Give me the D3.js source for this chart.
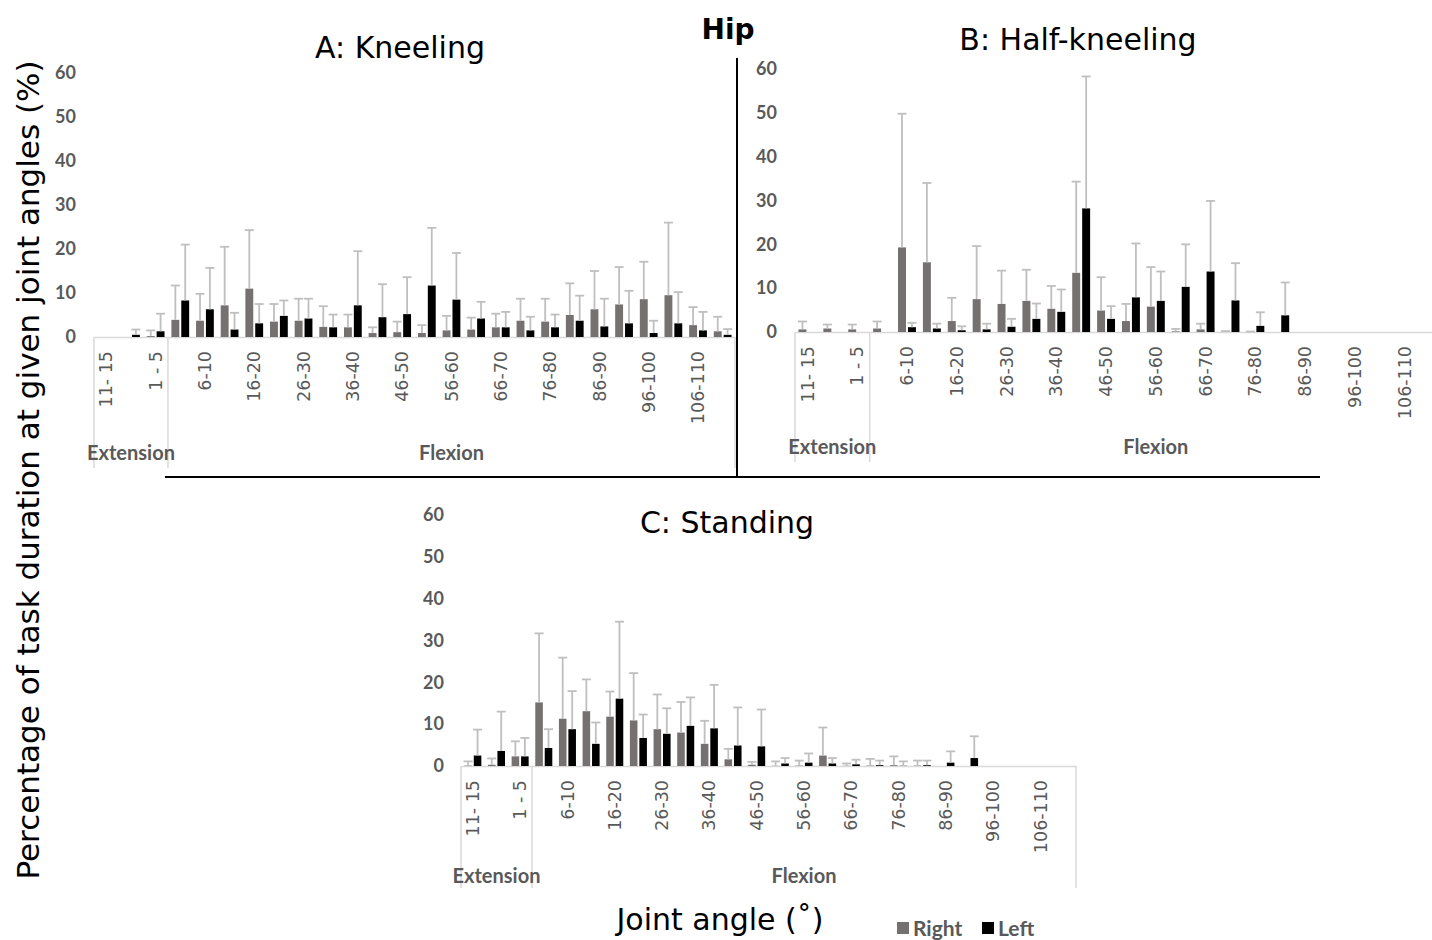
<!DOCTYPE html>
<html><head><meta charset="utf-8">
<script src="https://cdn.jsdelivr.net/npm/d3@7"></script>
<style>body{margin:0;background:#fff;} svg{display:block}</style>
</head><body>
<svg id="chart" width="1432" height="940"></svg>
<script>
// ---------- data ----------
const extensionCategories = ["11- 15", "6-10", "1 - 5"];
const flexionCategories = ["0-5","6-10","11-15","16-20","21-25","26-30","31-35","36-40","41-45","46-50",
  "51-55","56-60","61-65","66-70","71-75","76-80","81-85","86-90","91-95","96-100","101-105","106-110","111-115"];
const seriesNames = ["Right", "Left"];
const yTickValues = [0, 10, 20, 30, 40, 50, 60];
const panelTitles = ["A: Kneeling", "B: Half-kneeling", "C: Standing"];

// A: Kneeling (mean and SD, % of task duration)
const kneelingRight   = [0, 0, 0.2, 3.9, 3.7, 7.2, 11.0, 3.5, 3.7, 2.3, 2.2, 0.9, 1.1, 0.9, 1.5, 1.7, 2.2, 3.7, 3.5, 5.0, 6.3, 7.4, 8.6, 9.5, 2.7, 1.3];
const kneelingRightSD = [0, 0, 1.3, 7.8, 6.1, 13.3, 13.3, 4.0, 5.0, 4.7, 2.9, 1.3, 2.4, 1.8, 3.3, 2.7, 3.1, 5.0, 5.2, 7.2, 8.7, 8.5, 8.5, 16.5, 4.1, 3.3];
const kneelingLeft    = [0, 0.5, 1.3, 8.3, 6.3, 1.7, 3.1, 4.8, 4.2, 2.2, 7.2, 4.5, 5.2, 11.7, 8.5, 4.2, 2.2, 1.5, 2.2, 3.7, 2.4, 3.1, 0.9, 3.1, 1.5, 0.5];
const kneelingLeftSD  = [0, 1.2, 4.0, 12.7, 9.4, 3.8, 4.4, 3.5, 4.5, 2.9, 12.3, 7.5, 8.4, 13.1, 10.6, 3.8, 3.5, 3.1, 2.9, 5.7, 6.3, 7.4, 2.8, 7.1, 4.2, 1.3];

// B: Half-kneeling
const halfRight   = [0.6, 0.8, 0.6, 0.8, 19.3, 15.9, 2.5, 7.5, 6.4, 7.1, 5.3, 13.5, 4.9, 2.5, 5.8, 0.15, 0.6, 0.1, 0.05, 0, 0, 0, 0, 0, 0, 0];
const halfRightSD = [1.8, 0.9, 1.1, 1.6, 30.5, 18.1, 5.3, 12.1, 7.6, 7.1, 5.2, 20.8, 7.6, 3.9, 9.0, 0.55, 1.3, 0.1, 0.05, 0, 0, 0, 0, 0, 0, 0];
const halfLeft    = [0, 0, 0, 0, 1.1, 0.8, 0.4, 0.6, 1.2, 3.0, 4.6, 28.2, 3.0, 7.9, 7.1, 10.3, 13.8, 7.2, 1.4, 3.8, 0, 0, 0, 0, 0, 0];
const halfLeftSD  = [0, 0, 0, 0, 1.0, 1.1, 0.9, 1.3, 1.8, 3.5, 5.1, 30.1, 2.9, 12.3, 6.7, 9.7, 16.1, 8.5, 3.1, 7.5, 0, 0, 0, 0, 0, 0];

// C: Standing
const standRight   = [0.1, 0.3, 2.3, 15.2, 11.3, 13.1, 11.8, 10.9, 8.8, 8.0, 5.3, 1.6, 0.3, 0.05, 0.1, 2.5, 0.05, 0.1, 0.2, 0.1, 0, 0, 0, 0, 0, 0];
const standRightSD = [1.0, 1.5, 3.6, 16.5, 14.6, 7.6, 6.0, 11.3, 8.3, 7.3, 5.5, 2.5, 0.7, 1.05, 1.2, 6.7, 0.55, 1.6, 2.1, 1.2, 0, 0, 0, 0, 0, 0];
const standLeft    = [2.5, 3.6, 2.3, 4.3, 8.8, 5.3, 16.1, 6.7, 7.7, 9.6, 9.0, 4.9, 4.7, 0.6, 0.8, 0.6, 0.4, 0.2, 0.05, 0.2, 0.8, 1.9, 0, 0, 0, 0];
const standLeftSD  = [6.2, 9.4, 4.4, 4.5, 9.1, 5.1, 18.4, 5.6, 6.1, 6.8, 10.4, 9.1, 8.8, 1.3, 2.2, 1.3, 1.1, 1.1, 1.05, 1.1, 2.7, 5.2, 0, 0, 0, 0];

// ---------- drawing ----------
const svg = d3.select("#chart");
const colors = {Right: "#767171", Left: "#000000"};
const gray = "#595959";
const errColor = "#bfbfbf";
const gridColor = "#d9d9d9";

const extKeys = extensionCategories.map(c => "E|" + c);
const flexKeys = flexionCategories.map(c => "F|" + c);
const allKeys = extKeys.concat(flexKeys);
const labelOf = new Map(allKeys.map((k, i) => [k, i % 2 === 0 ? k.split("|")[1] : ""]));

const panels = [
  {title: panelTitles[0], tx: 400, ty: 58, x0: 94, x1: 735, y0: 337, yTop: 73, yLabX: 76, groupY: 460, lineBottom: 468,
   right: kneelingRight, rightSD: kneelingRightSD, left: kneelingLeft, leftSD: kneelingLeftSD},
  {title: panelTitles[1], tx: 1078, ty: 50, x0: 795, x1: 1442, y0: 332, yTop: 69, yLabX: 777, groupY: 454, lineBottom: 462,
   right: halfRight, rightSD: halfRightSD, left: halfLeft, leftSD: halfLeftSD},
  {title: panelTitles[2], tx: 727, ty: 533, x0: 461, x1: 1076, y0: 766, yTop: 515, yLabX: 444, groupY: 883, lineBottom: 888,
   right: standRight, rightSD: standRightSD, left: standLeft, leftSD: standLeftSD}
];

panels.forEach(p => {
  const g = svg.append("g");
  const x = d3.scaleBand().domain(allKeys).range([p.x0, p.x1]).padding(0);
  const bw = x.bandwidth();
  const xs = d3.scaleBand().domain(seriesNames).range([bw / 2 - bw * 0.36, bw / 2 + bw * 0.36]).paddingInner(0.2);
  const y = d3.scaleLinear().domain([0, 60]).range([p.y0, p.yTop]);

  // title
  g.append("text").attr("x", p.tx).attr("y", p.ty).attr("text-anchor", "middle")
    .style("font-family", "DejaVu Sans").style("font-size", "30px").attr("fill", "#000").text(p.title);

  // y axis labels
  const ya = g.append("g").attr("transform", `translate(${p.yLabX},0)`)
    .call(d3.axisLeft(y).tickValues(yTickValues).tickSize(0).tickPadding(0));
  ya.select(".domain").remove();
  ya.selectAll("text").style("font-family", "Lato, 'Liberation Sans', sans-serif").style("font-weight", "bold")
    .style("font-size", "18px").attr("fill", gray);

  // group separator lines
  [p.x0, x(flexKeys[0]), p.x1].forEach(xx => {
    g.append("line").attr("x1", xx).attr("x2", xx).attr("y1", p.y0).attr("y2", p.lineBottom)
      .attr("stroke", gridColor).attr("stroke-width", 1.5);
  });

  // x axis
  const xa = g.append("g").attr("transform", `translate(0,${p.y0})`)
    .call(d3.axisBottom(x).tickFormat(k => labelOf.get(k)).tickSize(0).tickSizeOuter(0));
  xa.select(".domain").attr("stroke", gridColor).attr("stroke-width", 1.5);
  xa.selectAll("text").attr("transform", "rotate(-90)").attr("text-anchor", "end")
    .attr("x", -14).attr("y", 0).attr("dy", "0.35em")
    .style("font-family", "DejaVu Sans").style("font-size", "17.5px").attr("fill", gray);

  // group labels
  [[ "Extension", (p.x0 + x(flexKeys[0])) / 2 ], [ "Flexion", (x(flexKeys[0]) + p.x1) / 2 ]].forEach(([t, cx]) => {
    g.append("text").attr("x", cx).attr("y", p.groupY).attr("text-anchor", "middle")
      .style("font-family", "Lato, sans-serif").style("font-weight", "bold").style("font-size", "20px")
      .attr("fill", gray).text(t);
  });

  // bars
  const rows = [];
  allKeys.forEach((k, i) => {
    rows.push({key: k, s: "Right", v: p.right[i], sd: p.rightSD[i]});
    rows.push({key: k, s: "Left", v: p.left[i], sd: p.leftSD[i]});
  });
  g.append("g").selectAll("rect").data(rows.filter(d => d.v > 0)).join("rect")
    .attr("x", d => x(d.key) + xs(d.s)).attr("width", xs.bandwidth())
    .attr("y", d => y(d.v)).attr("height", d => y(0) - y(d.v))
    .attr("fill", d => colors[d.s]);

  // error bars (upper only)
  const eb = g.append("g").selectAll("g").data(rows.filter(d => d.sd > 0)).join("g")
    .attr("transform", d => `translate(${x(d.key) + xs(d.s) + xs.bandwidth() / 2},0)`);
  eb.append("line").attr("x1", 0).attr("x2", 0).attr("y1", d => y(d.v)).attr("y2", d => y(d.v + d.sd))
    .attr("stroke", errColor).attr("stroke-width", 1.8);
  eb.append("line").attr("x1", -4.5).attr("x2", 4.5).attr("y1", d => y(d.v + d.sd)).attr("y2", d => y(d.v + d.sd))
    .attr("stroke", errColor).attr("stroke-width", 1.8);
});

// figure decorations
svg.append("text").attr("x", 728).attr("y", 39).attr("text-anchor", "middle")
  .style("font-family", "DejaVu Sans").style("font-weight", "bold").style("font-size", "28px").text("Hip");
svg.append("line").attr("x1", 737).attr("x2", 737).attr("y1", 58).attr("y2", 477).attr("stroke", "#000").attr("stroke-width", 2);
svg.append("line").attr("x1", 165).attr("x2", 1320).attr("y1", 477).attr("y2", 477).attr("stroke", "#000").attr("stroke-width", 2);

svg.append("text").attr("transform", "translate(39,470) rotate(-90)").attr("text-anchor", "middle")
  .style("font-family", "DejaVu Sans").style("font-size", "31px").text("Percentage of task duration at given joint angles (%)");
svg.append("text").attr("x", 720).attr("y", 930).attr("text-anchor", "middle")
  .style("font-family", "DejaVu Sans").style("font-size", "30px").text("Joint angle (˚)");

// legend
const legend = svg.append("g").attr("transform", "translate(897,922)");
const legendPos = d3.scaleOrdinal().domain(seriesNames).range([0, 85]);
seriesNames.forEach(s => {
  const lg = legend.append("g").attr("transform", `translate(${legendPos(s)},0)`);
  lg.append("rect").attr("width", 12).attr("height", 12).attr("fill", colors[s]);
  lg.append("text").attr("x", 16).attr("y", 14).style("font-family", "Lato, sans-serif").style("font-weight", "bold")
    .style("font-size", "21px").attr("fill", gray).text(s);
});
</script>
</body></html>
